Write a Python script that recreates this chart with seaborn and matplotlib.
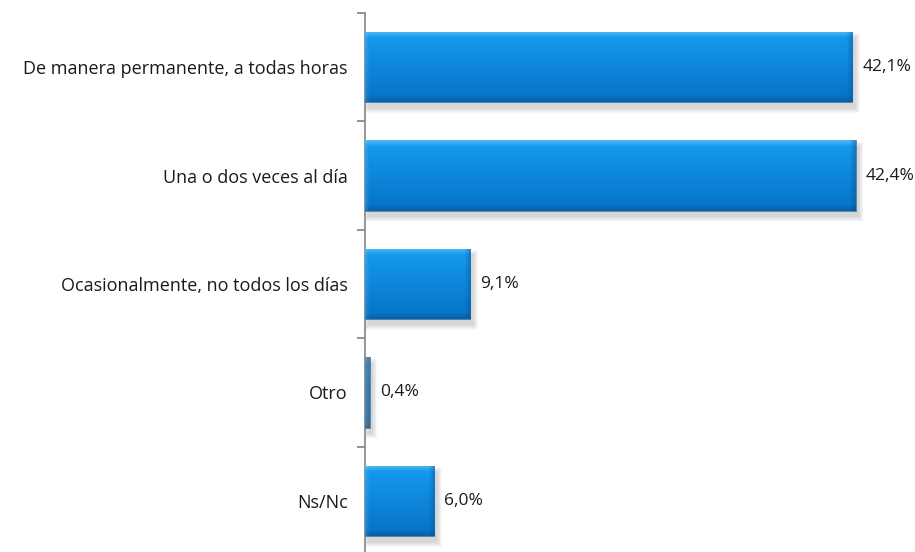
import numpy as np
import pandas as pd
import matplotlib
matplotlib.use("Agg")
import matplotlib.pyplot as plt
from matplotlib.patches import Rectangle
import seaborn as sns

categorias = [
    "De manera permanente, a todas horas",
    "Una o dos veces al día",
    "Ocasionalmente, no todos los días",
    "Otro",
    "Ns/Nc",
]
porcentajes = [42.1, 42.4, 9.1, 0.4, 6.0]

df = pd.DataFrame({"categoria": categorias, "pct": porcentajes})

sns.set_theme(style="white")
plt.rcParams["font.family"] = ["Open Sans", "DejaVu Sans"]

W, H = 915, 552
fig = plt.figure(figsize=(W / 100, H / 100), dpi=100)
ax_left, ax_top, ax_bot = 365, 13, 555
ax = fig.add_axes([ax_left / W, 1 - ax_bot / H, (W - ax_left) / W, (ax_bot - ax_top) / H])

XMAX = 47.5
sns.barplot(data=df, y="categoria", x="pct", orient="h", color="#0b8be2",
            width=0.65, ax=ax, saturation=1, zorder=3)
ax.set_xlim(0, XMAX)
ax.set_ylim(len(categorias) - 0.5, -0.5)

# axis styling: only the left spine, ticks on category boundaries
for s in ["top", "right", "bottom"]:
    ax.spines[s].set_visible(False)
ax.spines["left"].set_color("#8c8c8c")
ax.spines["left"].set_linewidth(1.3)
ax.set_xticks([])
ax.set_xlabel("")
ax.set_ylabel("")
ax.tick_params(axis="y", which="major", left=True, length=0, pad=12.5,
               labelsize=13, labelcolor="#1a1a1a")
ax.set_yticks(np.arange(-0.5, len(categorias) + 0.5, 1.0), minor=True)
ax.tick_params(axis="y", which="minor", left=True, length=5.5, width=1.3,
               color="#8c8c8c", direction="out")
ax.set_facecolor("white")

fig.canvas.draw()
px_x = XMAX / (W - ax_left)
px_y = len(categorias) / (ax_bot - ax_top)

base_top = np.array([0x16, 0x9c, 0xf0]) / 255
base_bot = np.array([0x06, 0x72, 0xc6]) / 255

bars = list(ax.patches)
for p, v in zip(bars, porcentajes):
    x0, y0, w, h = p.get_x(), p.get_y(), p.get_width(), p.get_height()
    p.set_edgecolor("#4b7fa8")
    p.set_linewidth(0.6)
    # soft drop shadow below and to the right
    for k in range(7):
        grow = k * 1.5
        ax.add_patch(Rectangle((x0 + (3 - grow / 2) * px_x, y0 + (6 - grow / 2) * px_y),
                               w + grow * px_x, h + grow * px_y,
                               facecolor="#707070", edgecolor="none", alpha=0.045, zorder=2))
    # beveled gradient fill
    wpx = max(int(round(w / px_x)), 2)
    hpx = int(round(h / px_y))
    t = np.linspace(0, 1, hpx)[:, None]
    img = base_top[None, None, :] * (1 - t[..., None]) + base_bot[None, None, :] * t[..., None]
    img = np.repeat(img, wpx, axis=1)
    yy = np.arange(hpx)[:, None] * np.ones((1, wpx))
    xx = np.ones((hpx, 1)) * np.arange(wpx)[None, :]
    top_band = np.clip(1 - yy / 6.0, 0, 1)
    bot_band = np.clip(1 - (hpx - 1 - yy) / 6.0, 0, 1)
    right_band = np.clip(1 - (wpx - 1 - xx) / 6.0, 0, 1)
    left_band = np.clip(1 - xx / 4.0, 0, 1)
    light = np.array([0.45, 0.80, 0.98])
    dark = np.array([0.05, 0.32, 0.55])
    img = img * (1 - 0.6 * top_band[..., None]) + light * 0.6 * top_band[..., None]
    img = img * (1 - 0.55 * bot_band[..., None]) + dark * 0.55 * bot_band[..., None]
    img = img * (1 - 0.45 * right_band[..., None]) + dark * 0.45 * right_band[..., None]
    img = img * (1 - 0.25 * left_band[..., None]) + light * 0.25 * left_band[..., None]
    if v < 1:
        img = img * 0.55 + np.array([0.45, 0.47, 0.5]) * 0.45
    im = ax.imshow(np.clip(img, 0, 1), extent=[x0, x0 + w, y0 + h, y0], origin="upper",
                   aspect="auto", zorder=3.5, interpolation="bilinear")
    im.set_clip_path(p)
    # value label
    ax.text(x0 + w + 10 * px_x, y0 + h / 2, f"{v:.1f}".replace(".", ",") + "%",
            va="center", ha="left", fontsize=12.5, color="#1a1a1a", zorder=5)

ax.set_xlim(0, XMAX)
ax.set_ylim(len(categorias) - 0.5, -0.5)

fig.savefig("out.png", dpi=100, facecolor="white")
